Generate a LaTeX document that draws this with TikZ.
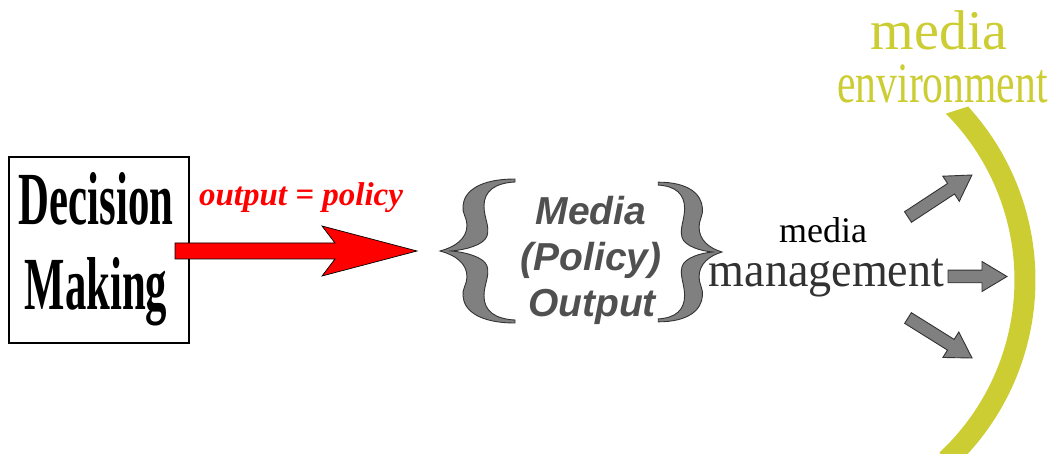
\documentclass[tikz,border=0pt]{standalone}
\usepackage{fontspec}
\setmainfont{Liberation Serif}
\newfontfamily\arialfont{Liberation Sans}
\definecolor{envyellow}{RGB}{204,204,51}
\definecolor{bracegray}{RGB}{128,128,128}
\definecolor{textgray}{RGB}{80,80,80}
\definecolor{mgmtgray}{RGB}{50,50,50}
\newcommand\grayarrow[3]{%
  \begin{scope}[shift={#1},rotate=#2]
    \filldraw[garrow] (0,-6.3) -- ({#3-25},-6.3) -- ({#3-25},-15) -- (#3,0)
      -- ({#3-25},15) -- ({#3-25},6.3) -- (0,6.3) -- cycle;
  \end{scope}}
\newcommand\curlybrace[2]{%
  \begin{scope}[shift={#1},#2]
    \filldraw[bracestyle] (0,0) .. controls (15,-4) and (27,-12) .. (27,-26)
      .. controls (27,-33) and (22,-38) .. (23,-45)
      .. controls (24,-60) and (40,-72) .. (75,-72) -- (75,-69)
      .. controls (55,-68) and (44,-60) .. (44,-45)
      .. controls (44,-33) and (50,-25) .. (47,-15)
      .. controls (44,-6) and (25,-1) .. (11,0)
      .. controls (25,1) and (44,6) .. (47,15)
      .. controls (50,25) and (44,33) .. (44,45)
      .. controls (44,60) and (55,68) .. (75,69) -- (75,72)
      .. controls (40,72) and (24,60) .. (23,45)
      .. controls (22,38) and (27,33) .. (27,26)
      .. controls (27,12) and (15,4) .. (0,0) -- cycle;
  \end{scope}}
\tikzset{
  bracestyle/.style={fill=bracegray, draw=black!80, line width=0.9},
  garrow/.style={fill=bracegray, draw=black!80, line width=0.9, line join=miter},
  redarrow/.style={fill=red, draw=black, line width=0.7, line join=miter},
  txt/.style={inner sep=0pt, outer sep=0pt, anchor=base}
}
\begin{document}
\begin{tikzpicture}[x=1pt,y=-1pt]
\useasboundingbox[fill=white] (0,0) rectangle (1053,454);

% Decision making box
\node[draw=black, line width=2, minimum width=180pt, minimum height=186pt, inner sep=0pt] (box) at (99,250) {};
\node[txt] (dec) at (96,225) {\scalebox{0.57}[1]{\fontsize{75}{75}\selectfont\bfseries Decision}};
\node[txt] (mak) at (96,310) {\scalebox{0.57}[1]{\fontsize{75}{75}\selectfont\bfseries Making}};

% red arrow
\coordinate (redtailtop) at (175,243);
\coordinate (redtailbot) at (175,259);
\coordinate (redtip) at (417,251);
\filldraw[redarrow] (redtailtop) -- (335,243) -- (322,226) -- (redtip)
  -- (322,276) -- (335,259) -- (redtailbot) -- cycle;
\node[txt, text=red] (outp) at (301,206) {\fontsize{33}{33}\selectfont\bfseries\itshape output = policy};

% braces
\curlybrace{(440,251)}{}
\curlybrace{(722,252)}{xscale=-0.85, yscale=0.97}

% Media (Policy) Output
\node[txt, text=textgray] (m1) at (591,225) {\arialfont\fontsize{39}{39}\selectfont\bfseries\itshape Media};
\node[txt, text=textgray] (m2) at (591,271) {\arialfont\fontsize{39}{39}\selectfont\bfseries\itshape (Policy)};
\node[txt, text=textgray] (m3) at (592,317) {\arialfont\fontsize{39}{39}\selectfont\bfseries\itshape Output};

% media management
\node[txt, text=black] (mm1) at (823,243) {\fontsize{36}{36}\selectfont media};
\node[txt, text=mgmtgray] (mm2) at (826.5,287) {\scalebox{0.94}[1]{\fontsize{49}{49}\selectfont management}};

% gray arrows
\grayarrow{(908,217)}{33.3}{76.5}
\grayarrow{(948,276.5)}{0}{59}
\grayarrow{(908,318)}{-32}{75.5}

% media environment arc
\begin{scope}
  \clip (900,128.3) -- (1053,79.4) -- (1053,454) -- (900,454) -- cycle;
  \draw[envyellow, line width=21] (943.4,96.8) arc[start angle=48, end angle=-47, radius=246.5pt];
\end{scope}
\node[txt, text=envyellow] (me1) at (939,50) {\fontsize{56}{56}\selectfont media};
\node[txt, text=envyellow] (me2) at (942.5,103) {\scalebox{0.73}[1]{\fontsize{57}{57}\selectfont environment}};
\end{tikzpicture}
\end{document}
